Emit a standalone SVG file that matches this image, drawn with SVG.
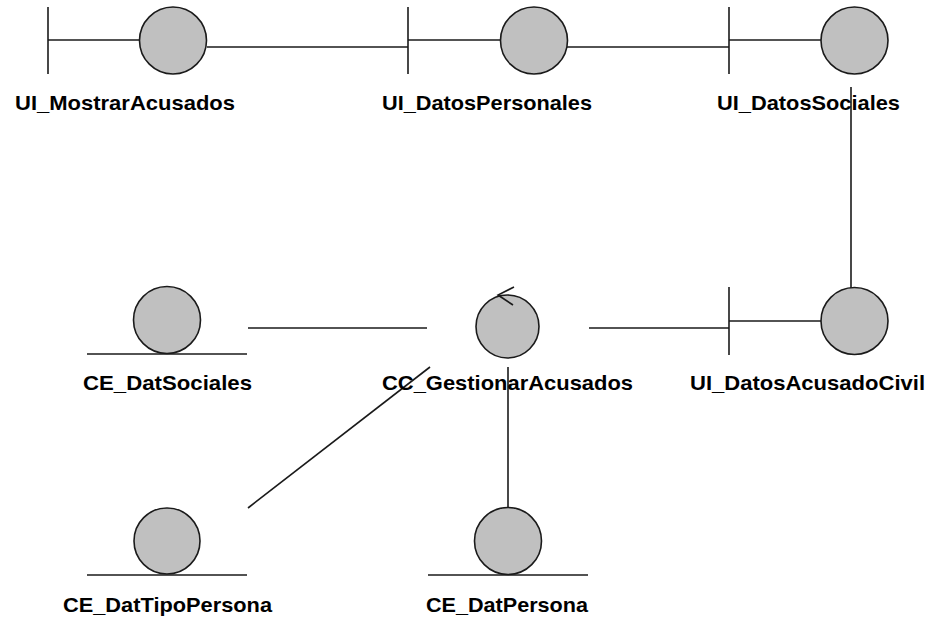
<svg xmlns="http://www.w3.org/2000/svg" width="929" height="619" viewBox="0 0 929 619">
  <style>
    .bg { fill: #ffffff; }
    .obj { fill: #c0c0c0; stroke: #1a1a1a; stroke-width: 1.6; }
    .ln { fill: none; stroke: #1a1a1a; stroke-width: 1.6; }
    .lbl { font-family: "Liberation Sans", Arial, sans-serif; font-weight: bold; font-size: 21px; fill: #000; text-anchor: middle; }
  </style>
  <rect class="bg" x="0" y="0" width="929" height="619"/>

  <!-- connectors -->
  <g id="connectors">
    <line class="ln" x1="207" y1="47" x2="408" y2="47"/>
    <line class="ln" x1="567" y1="47" x2="729" y2="47"/>
    <line class="ln" x1="851" y1="87" x2="851" y2="288"/>
    <line class="ln" x1="589" y1="328" x2="729" y2="328"/>
    <line class="ln" x1="248" y1="328" x2="427" y2="328"/>
    <line class="ln" x1="248" y1="508" x2="430" y2="367"/>
    <line class="ln" x1="508" y1="367" x2="508" y2="508"/>
  </g>

  <!-- boundary objects -->
  <g id="UI_MostrarAcusados">
    <line class="ln" x1="48" y1="7" x2="48" y2="74"/>
    <line class="ln" x1="48" y1="40" x2="140" y2="40"/>
    <circle class="obj" cx="173" cy="40.5" r="33.5"/>
    <text class="lbl" x="125" y="110" textLength="220" lengthAdjust="spacingAndGlyphs">UI_MostrarAcusados</text>
  </g>
  <g id="UI_DatosPersonales">
    <line class="ln" x1="408" y1="7" x2="408" y2="74"/>
    <line class="ln" x1="408" y1="40" x2="501" y2="40"/>
    <circle class="obj" cx="534" cy="40.5" r="33.5"/>
    <text class="lbl" x="487" y="110" textLength="210" lengthAdjust="spacingAndGlyphs">UI_DatosPersonales</text>
  </g>
  <g id="UI_DatosSociales">
    <line class="ln" x1="729" y1="7" x2="729" y2="74"/>
    <line class="ln" x1="729" y1="40" x2="821" y2="40"/>
    <circle class="obj" cx="854.5" cy="40.5" r="33.5"/>
    <text class="lbl" x="808.5" y="110" textLength="183" lengthAdjust="spacingAndGlyphs">UI_DatosSociales</text>
  </g>
  <g id="UI_DatosAcusadoCivil">
    <line class="ln" x1="729" y1="287" x2="729" y2="355"/>
    <line class="ln" x1="729" y1="321" x2="821" y2="321"/>
    <circle class="obj" cx="854.5" cy="321" r="33.5"/>
    <text class="lbl" x="807.5" y="390" textLength="235" lengthAdjust="spacingAndGlyphs">UI_DatosAcusadoCivil</text>
  </g>

  <!-- control object -->
  <g id="CC_GestionarAcusados">
    <circle class="obj" cx="507.5" cy="326.5" r="31.5"/>
    <polyline class="ln" points="514,287 498,295 513,305"/>
    <text class="lbl" x="507.5" y="390" textLength="251" lengthAdjust="spacingAndGlyphs">CC_GestionarAcusados</text>
  </g>

  <!-- entity objects -->
  <g id="CE_DatSociales">
    <circle class="obj" cx="167" cy="320" r="33.5"/>
    <line class="ln" x1="87" y1="354" x2="247" y2="354"/>
    <text class="lbl" x="167.5" y="390" textLength="169" lengthAdjust="spacingAndGlyphs">CE_DatSociales</text>
  </g>
  <g id="CE_DatTipoPersona">
    <circle class="obj" cx="167" cy="541" r="33"/>
    <line class="ln" x1="87" y1="575" x2="247" y2="575"/>
    <text class="lbl" x="167.5" y="612" textLength="209" lengthAdjust="spacingAndGlyphs">CE_DatTipoPersona</text>
  </g>
  <g id="CE_DatPersona">
    <circle class="obj" cx="508" cy="541" r="33.5"/>
    <line class="ln" x1="428" y1="575" x2="588" y2="575"/>
    <text class="lbl" x="507" y="612" textLength="162" lengthAdjust="spacingAndGlyphs">CE_DatPersona</text>
  </g>
</svg>
